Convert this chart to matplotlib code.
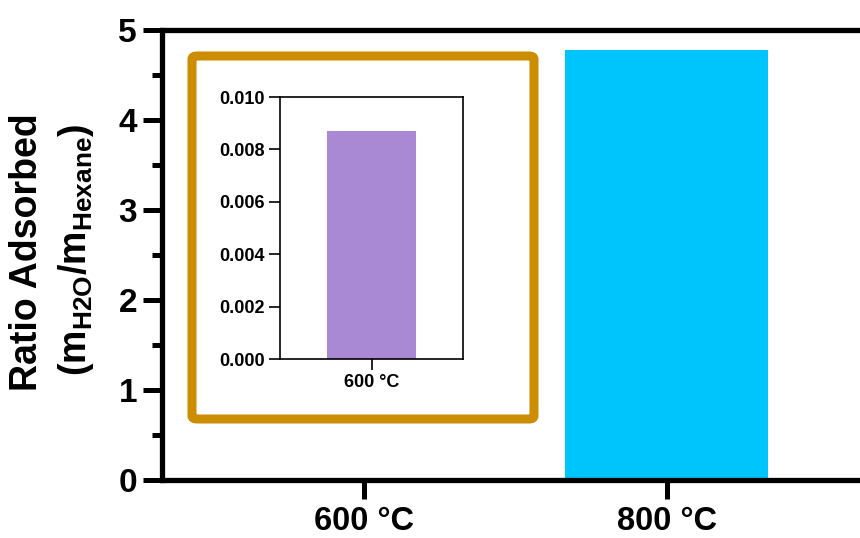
import matplotlib
matplotlib.use("Agg")
import matplotlib.pyplot as plt
from matplotlib.patches import FancyBboxPatch

plt.rcParams['font.family'] = ['Liberation Sans', 'DejaVu Sans']
plt.rcParams['font.weight'] = 'bold'
plt.rcParams['mathtext.fontset'] = 'custom'
plt.rcParams['mathtext.rm'] = 'Liberation Sans'
plt.rcParams['mathtext.bf'] = 'Liberation Sans:bold'

temps = ['600 °C', '800 °C']
ratios = [0.0087, 4.78]
barColors = ['#A988D4', '#00C5FC']
insetTemp = ['600 °C']
insetRatio = [0.0087]
mainTicks = [0, 1, 2, 3, 4, 5]
insetTicks = [0.000, 0.002, 0.004, 0.006, 0.008, 0.010]

fig = plt.figure(figsize=(8.6, 5.38), dpi=100)
ax = fig.add_axes([162/860, 58/538, 707/860, 450/538])
ax.bar(range(len(temps)), ratios, width=0.67, color=barColors)
ax.set_xlim(-0.667, 1.667)
ax.set_ylim(0, 5)
ax.set_xticks(range(len(temps)))
ax.set_xticklabels(temps, fontsize=23.5, fontweight='bold')
ax.set_yticks(mainTicks)
ax.set_yticklabels([str(t) for t in mainTicks], fontsize=24, fontweight='bold')
ax.set_yticks([0.5, 1.5, 2.5, 3.5, 4.5], minor=True)
for s in ['left', 'bottom', 'top']:
    ax.spines[s].set_linewidth(3.8)
ax.spines['right'].set_visible(False)
ax.tick_params(axis='y', which='major', length=14, width=3.6, pad=4)
ax.tick_params(axis='y', which='minor', length=7, width=3.6)
ax.tick_params(axis='x', which='major', length=14, width=3.6, pad=5)

fig.text(27/860, 1 - 252/538, 'Ratio Adsorbed', rotation=90, ha='center', va='center',
         fontsize=27, fontweight='bold')
fig.text(76/860, 1 - 250/538, r'(m$_{\mathrm{H2O}}$/m$_{\mathrm{Hexane}}$)', rotation=90,
         ha='center', va='center', fontsize=27, fontweight='bold')

# gold frame round the inset
box = FancyBboxPatch((192/860, 119/538), 342/860, 363/538,
                     boxstyle='round,pad=0,rounding_size=0.006',
                     transform=fig.transFigure, facecolor='white',
                     edgecolor='#CC8E00', linewidth=6.5, zorder=3)
fig.patches.append(box)

axin = fig.add_axes([280/860, 179/538, 183/860, 262/538], zorder=4)
axin.bar(range(len(insetTemp)), insetRatio, width=0.98, color='#A988D4')
axin.set_xlim(-1, 1)
axin.set_ylim(0, 0.010)
axin.set_xticks(range(len(insetTemp)))
axin.set_xticklabels(insetTemp, fontsize=13, fontweight='bold')
axin.set_yticks(insetTicks)
axin.set_yticklabels(['%.3f' % t for t in insetTicks], fontsize=13, fontweight='bold')
for s in axin.spines.values():
    s.set_linewidth(1.2)
axin.tick_params(length=8, width=1.2, pad=3)

fig.savefig('out.png', dpi=100)
